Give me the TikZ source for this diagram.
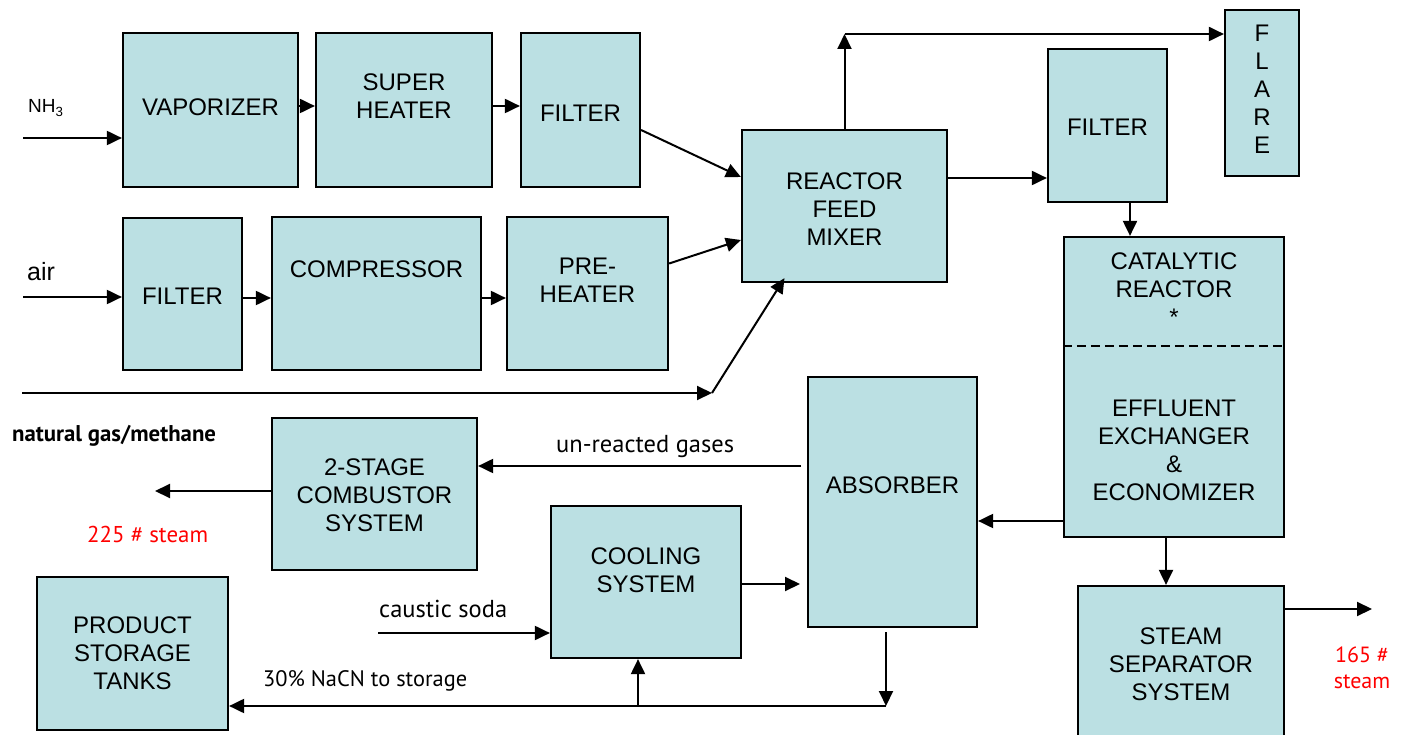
\documentclass[tikz,border=0pt]{standalone}
\usepackage{fontspec}
\setmainfont{Liberation Sans}
\newfontfamily\labfont{PT Sans}
\usetikzlibrary{arrows.meta,fit}
\definecolor{boxfill}{RGB}{187,224,227}
\definecolor{steamred}{RGB}{255,0,0}
\begin{document}
\begin{tikzpicture}[x=1pt,y=-1pt,
  box/.style={draw=black, fill=boxfill, line width=2.2pt, inner sep=0pt},
  btxt/.style={font=\fontsize{24}{28}\selectfont, align=center, inner sep=0pt},
  lab/.style={font=\labfont\fontsize{22}{26}\selectfont, inner sep=0pt},
  redlab/.style={lab, text=steamred, align=center},
  arr/.style={line width=2pt, -{Triangle[length=15pt,width=14pt]}},
  dashline/.style={line width=1.8pt, dash pattern=on 9pt off 5pt}]
\useasboundingbox (0,0) rectangle (1405,735);
% boxes
\node[box, fit={(123,33) (298,187)}] (vap) {};
\node[box, fit={(316,33) (492,187)}] (sup) {};
\node[box, fit={(521,33) (640,187)}] (fil1) {};
\node[box, fit={(123,218) (242,370)}] (fil2) {};
\node[box, fit={(272,217) (481,370)}] (comp) {};
\node[box, fit={(507,217) (668,370)}] (pre) {};
\node[box, fit={(742,130) (947,282)}] (mix) {};
\node[box, fit={(1225,10) (1299,176)}] (flare) {};
\node[box, fit={(1048,49) (1167,202)}] (fil3) {};
\node[box, fit={(1064,237) (1284,537)}] (cat) {};
\node[box, fit={(808,377) (977,627)}] (abs) {};
\node[box, fit={(272,418) (477,570)}] (comb) {};
\node[box, fit={(551,506) (741,658)}] (cool) {};
\node[box, fit={(37,577) (228,730)}] (stor) {};
\node[box, fit={(1078,586) (1284,745)}] (sep) {};
% box texts
\node[btxt] (vapT) at (210.5,107) {VAPORIZER};
\node[btxt] (supT) at (404,96) {SUPER\\HEATER};
\node[btxt] (fil1T) at (580.5,113) {FILTER};
\node[btxt] (fil2T) at (182.5,296) {FILTER};
\node[btxt] (compT) at (376.5,269) {COMPRESSOR};
\node[btxt] (preT) at (587.5,280) {PRE-\\HEATER};
\node[btxt] (mixT) at (844.5,209) {REACTOR\\FEED\\MIXER};
\node[btxt] (flareT) at (1262,89) {F\\L\\A\\R\\E};
\node[btxt] (fil3T) at (1107.5,127) {FILTER};
\node[btxt] (catT1) at (1174,289) {CATALYTIC\\REACTOR\\*};
\node[btxt] (catT2) at (1174,450.5) {EFFLUENT\\EXCHANGER\\\&\\ECONOMIZER};
\node[btxt] (absT) at (892.5,485) {ABSORBER};
\node[btxt] (combT) at (374.5,495) {2-STAGE\\COMBUSTOR\\SYSTEM};
\node[btxt] (coolT) at (646,570.5) {COOLING\\SYSTEM};
\node[btxt] (storT) at (132.5,653.5) {PRODUCT\\STORAGE\\TANKS};
\node[btxt] (sepT) at (1181,664) {STEAM\\SEPARATOR\\SYSTEM};
% labels
\node[inner sep=0pt, anchor=base west, font=\fontsize{19}{22}\selectfont] (nh3L) at (28,113) {NH\textsubscript{3}};
\node[inner sep=0pt, anchor=base west, font=\fontsize{25}{28}\selectfont] (airL) at (27,280) {air};
\node[lab, anchor=base west, font=\labfont\bfseries\fontsize{22.8}{26}\selectfont] (ngL) at (12,441) {natural gas/methane};
\node[lab, anchor=base west, font=\labfont\fontsize{24.5}{26}\selectfont] (unL) at (556,452) {un-reacted gases};
\node[lab, anchor=base west, font=\labfont\fontsize{24.5}{26}\selectfont] (csL) at (379,617) {caustic soda};
\node[lab, anchor=base west, font=\labfont\fontsize{22.4}{26}\selectfont] (naL) at (263,686) {30\% NaCN to storage};
\node[redlab, anchor=base west, font=\labfont\fontsize{22.9}{26}\selectfont] (s225) at (87,542) {225 \# steam};
\node[redlab, anchor=north] (s165) at (1362,647) {165 \#\\steam};
% dashed divider
\coordinate (dy) at (0,346);
\draw[dashline] (cat.west |- dy) -- (cat.east |- dy);
% connectors
\coordinate (r1) at (0,106);
\coordinate (nh3in) at (23,138);
\draw[arr] (nh3in) -- (nh3in -| vap.west);
\draw[arr] (vap.east |- r1) -- (sup.west |- r1);
\draw[arr] (sup.east |- r1) -- (fil1.west |- r1);
\draw[arr] ([yshift=-20pt]fil1.east) -- ([yshift=29pt]mix.west);
\coordinate (airin) at (23,297);
\draw[arr] (airin) -- (airin -| fil2.west);
\coordinate (r2) at (0,298);
\draw[arr] (fil2.east |- r2) -- (comp.west |- r2);
\draw[arr] (comp.east |- r2) -- (pre.west |- r2);
\draw[arr] ([yshift=30pt]pre.east) -- ([yshift=-34pt]mix.west);
\coordinate (ngin) at (22,393);
\coordinate (ngj) at (712,393);
\draw[arr] (ngin) -- (ngj);
\draw[arr] (ngj) -- ([xshift=-60pt,yshift=5pt]mix.south);
\coordinate (fly) at (0,34);
\draw[arr] (mix.north) -- (mix.north |- fly);
\draw[arr] (mix.north |- fly) -- (flare.west |- fly);
\coordinate (r3) at (0,178);
\draw[arr] (mix.east |- r3) -- (fil3.west |- r3);
\coordinate (c1) at (1130,0);
\draw[arr] (fil3.south -| c1) -- (cat.north -| c1);
\coordinate (r4) at (0,521);
\draw[arr] (cat.west |- r4) -- (abs.east |- r4);
\coordinate (ab1) at (801,466);
\draw[arr] (ab1) -- (ab1 -| comb.east);
\coordinate (st1) at (155,491);
\draw[arr] (comb.west |- st1) -- (st1);
\coordinate (ca1) at (800,584);
\draw[arr] (cool.east |- ca1) -- (ca1);
\coordinate (cs) at (378,633);
\draw[arr] (cs) -- (cs -| cool.west);
\coordinate (abo) at (886,632);
\coordinate (abj) at (886,706);
\draw[arr] (abo) -- (abj);
\draw[arr] (abj) -- (abj -| stor.east);
\coordinate (cj) at (638,706);
\draw[arr] (cj) -- (cj |- cool.south);
\coordinate (c2) at (1166,0);
\draw[arr] (cat.south -| c2) -- (sep.north -| c2);
\coordinate (so) at (1372,609);
\draw[arr] (sep.east |- so) -- (so);
\end{tikzpicture}
\end{document}
